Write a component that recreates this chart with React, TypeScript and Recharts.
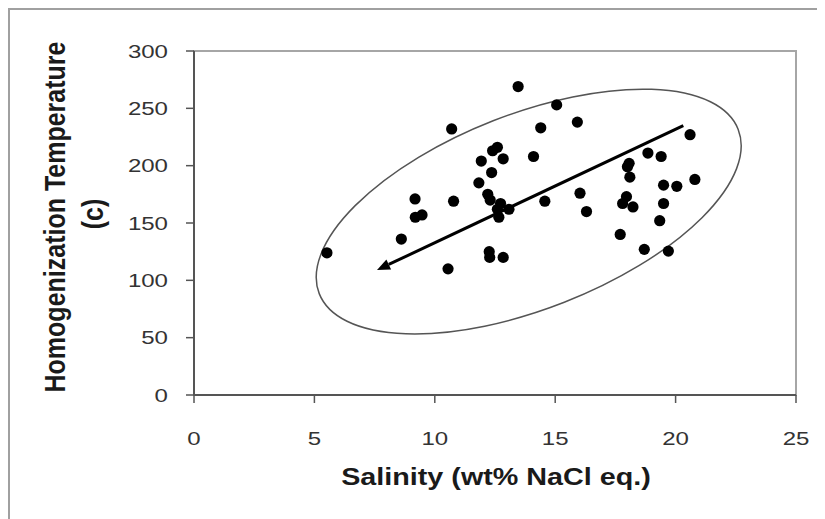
import React from "react";
import {
  ScatterChart,
  Scatter,
  XAxis,
  YAxis,
  ReferenceArea,
  ReferenceLine,
  ReferenceDot,
  Label,
} from "recharts";

// Salinity (wt% NaCl eq.) of each inclusion
const salinity = [
  5.52, 8.61, 9.18, 9.19, 9.47, 10.7, 10.78, 10.55, 12.26, 12.28, 12.84,
  11.93, 12.4, 12.6, 12.36, 11.83, 12.2, 12.3, 12.6, 12.66, 12.84, 12.73,
  13.08, 13.46, 15.06, 14.4, 15.92, 14.1, 14.57, 16.03, 16.3, 20.6, 18.85,
  19.4, 18.07, 18.0, 18.1, 19.5, 20.05, 20.8, 17.96, 17.8, 18.23, 19.5,
  19.34, 17.7, 18.7, 19.7,
];
// Homogenization temperature (c) of each inclusion
const temperature = [
  124, 136, 171, 155, 157, 232, 169, 110, 125, 120, 120, 204, 213, 216, 194,
  185, 175, 170, 162, 155, 206, 167, 162, 269, 253, 233, 238, 208, 169, 176,
  160, 227, 211, 208, 202, 199, 190, 183, 182, 188, 173, 167, 164, 167, 152,
  140, 127, 125.5,
];

const xTicks = [0, 5, 10, 15, 20, 25];
const yTicks = [0, 50, 100, 150, 200, 250, 300];

// trend arrow (tail -> head) and envelope centre, in data units
const trendTail = { x: 20.32, y: 235 };
const trendHead = { x: 7.6, y: 109 };
const envelopeCentre = { x: 13.9, y: 160 };

const points = salinity.map((s, i) => ({ s, t: temperature[i] }));

const FONT = "'Liberation Sans', Arial, sans-serif";

const XTick = (props: any) => {
  const { x, y, payload } = props;
  return (
    <g transform={`translate(${x},${y + 40})`}>
      <text
        transform="scale(1.3,1)"
        textAnchor="middle"
        fontFamily={FONT}
        fontSize={18.5}
        fill="#333"
      >
        {payload.value}
      </text>
    </g>
  );
};

const YTick = (props: any) => {
  const { x, y, payload } = props;
  return (
    <g transform={`translate(${x - 16},${y + 6.5})`}>
      <text
        transform="scale(1.3,1)"
        textAnchor="end"
        fontFamily={FONT}
        fontSize={18.5}
        fill="#333"
      >
        {payload.value}
      </text>
    </g>
  );
};

const XLabel = (props: any) => {
  const vb = props.viewBox || { x: 184, y: 385, width: 602, height: 60 };
  const cx = vb.x + vb.width / 2 + 1;
  const by = vb.y + 90;
  return (
    <text
      transform={`translate(${cx},${by}) scale(1.25,1)`}
      textAnchor="middle"
      fontFamily={FONT}
      fontWeight="bold"
      fontSize={23}
      fill="#1a1a1a"
    >
      Salinity (wt% NaCl eq.)
    </text>
  );
};

const YLabel = (props: any) => {
  const vb = props.viewBox || { x: 114, y: 41, width: 70, height: 344 };
  const right = vb.x + vb.width;
  const cy = vb.y + vb.height / 2;
  return (
    <g>
      <text
        transform={`translate(${right - 129},${cy - 6}) rotate(-90) scale(1,1.15)`}
        textAnchor="middle"
        fontFamily={FONT}
        fontWeight="bold"
        fontSize={25}
        fill="#1a1a1a"
      >
        Homogenization Temperature
      </text>
      <text
        transform={`translate(${right - 91},${cy - 9}) rotate(-90) scale(1,1.15)`}
        textAnchor="middle"
        fontFamily={FONT}
        fontWeight="bold"
        fontSize={25}
        fill="#1a1a1a"
      >
        (c)
      </text>
    </g>
  );
};

const Arrow = (props: any) => {
  const { x1, y1, x2, y2 } = props;
  const dx = x2 - x1;
  const dy = y2 - y1;
  const len = Math.sqrt(dx * dx + dy * dy) || 1;
  const ux = dx / len;
  const uy = dy / len;
  const hl = 13;
  const hw = 5.5;
  const bx = x2 - ux * hl;
  const by = y2 - uy * hl;
  const pts = `${x2},${y2} ${bx - uy * hw},${by + ux * hw} ${bx + uy * hw},${by - ux * hw}`;
  return (
    <g>
      <line x1={x1} y1={y1} x2={bx} y2={by} stroke="#000" strokeWidth={3} />
      <polygon points={pts} fill="#000" />
    </g>
  );
};

const Envelope = (props: any) => {
  const { cx, cy } = props;
  return (
    <ellipse
      cx={cx}
      cy={cy}
      rx={225}
      ry={97.5}
      transform={`rotate(-21.4 ${cx} ${cy})`}
      fill="none"
      stroke="#555"
      strokeWidth={1.5}
    />
  );
};

const Dot = (props: any) => (
  <circle cx={props.cx} cy={props.cy} r={5.6} fill="#000" />
);

export default function App() {
  return (
    <div
      style={{
        width: 811,
        height: 520,
        border: "2px solid #a0a0a0",
        borderBottom: "none",
        background: "#fff",
        overflow: "hidden",
      }}
    >
      <ScatterChart
        width={811}
        height={520}
        margin={{ top: 41, right: 25, bottom: 75, left: 114 }}
      >
        <XAxis
          type="number"
          dataKey="s"
          domain={[0, 25]}
          ticks={xTicks}
          interval={0}
          height={60}
          axisLine={{ stroke: "#555", strokeWidth: 2 }}
          tickLine={{ stroke: "#555", strokeWidth: 1.5 }}
          tickSize={8}
          tick={<XTick />}
        >
          <Label content={<XLabel />} />
        </XAxis>
        <YAxis
          type="number"
          dataKey="t"
          domain={[0, 300]}
          ticks={yTicks}
          interval={0}
          width={70}
          axisLine={{ stroke: "#555", strokeWidth: 2 }}
          tickLine={{ stroke: "#555", strokeWidth: 1.5 }}
          tickSize={8}
          tick={<YTick />}
        >
          <Label content={<YLabel />} />
        </YAxis>
        <ReferenceArea
          x1={0}
          x2={25}
          y1={0}
          y2={300}
          fill="none"
          stroke="#a6a6a6"
          strokeWidth={2}
        />
        <ReferenceDot
          x={envelopeCentre.x}
          y={envelopeCentre.y}
          shape={<Envelope />}
        />
        <ReferenceLine
          segment={[trendTail, trendHead]}
          shape={<Arrow />}
        />
        <Scatter
          data={points}
          shape={<Dot />}
          isAnimationActive={false}
        />
      </ScatterChart>
    </div>
  );
}
